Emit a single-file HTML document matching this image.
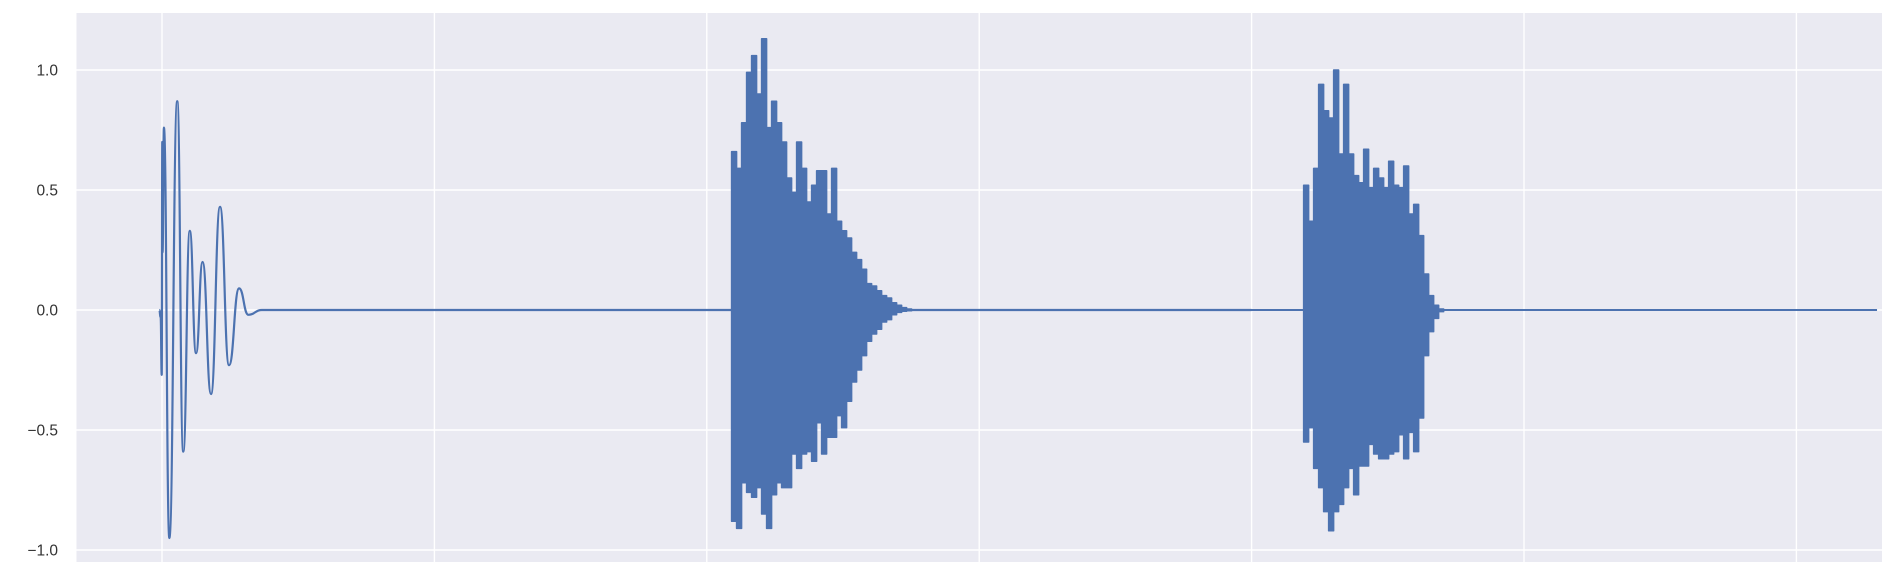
<!DOCTYPE html>
<html><head><meta charset="utf-8">
<style>
html,body{margin:0;padding:0;background:#fff;}
svg{display:block;font-family:"Liberation Sans","DejaVu Sans",sans-serif;}
</style></head>
<body>
<svg id="chart" width="1882" height="566" viewBox="0 0 1882 566" xmlns="http://www.w3.org/2000/svg">
<g id="plot"></g>
</svg>
<script>
// ---- data ----
const xTicks = [0, 10, 20, 30, 40, 50, 60];
const yTicks = [1.0, 0.5, 0.0, -0.5, -1.0];
const yTickLabels = ["1.0", "0.5", "0.0", "\u22120.5", "\u22121.0"];
// initial transient (t, value) - extrema
const transientT = [-0.10, -0.05, -0.01, 0.01, 0.02, 0.07, 0.27, 0.56, 0.78, 1.02, 1.25, 1.49, 1.80, 2.13, 2.46, 2.83, 3.17, 3.66, 40];
const transientV = [0.0, -0.03, -0.27, 0.70, 0.24, 0.76, -0.95, 0.87, -0.59, 0.33, -0.18, 0.20, -0.35, 0.43, -0.23, 0.09, -0.02, 0.0, 0.0];
// burst 1 envelope
const burst1Start = 20.91;
const burst1Max = [0.66,0.59,0.78,0.99,1.06,0.90,1.13,0.76,0.87,0.78,0.70,0.55,0.49,0.70,0.59,0.45,0.52,0.58,0.58,0.40,0.59,0.37,0.33,0.30,0.24,0.21,0.17,0.11,0.10,0.08,0.06,0.05,0.03,0.02,0.01,0.004];
const burst1Min = [-0.88,-0.91,-0.72,-0.76,-0.78,-0.74,-0.85,-0.91,-0.77,-0.72,-0.74,-0.74,-0.60,-0.66,-0.60,-0.59,-0.63,-0.47,-0.60,-0.53,-0.53,-0.44,-0.49,-0.38,-0.30,-0.25,-0.19,-0.13,-0.10,-0.08,-0.05,-0.04,-0.02,-0.01,-0.005,-0.003];
// burst 2 envelope
const burst2Start = 41.91;
const burst2Max = [0.52,0.37,0.59,0.94,0.83,0.80,1.00,0.65,0.94,0.65,0.56,0.53,0.67,0.51,0.59,0.55,0.51,0.62,0.52,0.51,0.60,0.40,0.44,0.31,0.15,0.06,0.02,0.004];
const burst2Min = [-0.55,-0.49,-0.66,-0.74,-0.84,-0.92,-0.84,-0.81,-0.74,-0.66,-0.77,-0.65,-0.65,-0.56,-0.60,-0.62,-0.62,-0.60,-0.59,-0.52,-0.62,-0.51,-0.59,-0.45,-0.19,-0.09,-0.035,-0.007];
const binWidth = 0.1836;
const tEnd = 62.96;

// ---- axes ----
const NS = "http://www.w3.org/2000/svg";
const L = 76.5, T = 13, R = 1882, B = 562;
const xs = t => 162 + t * 27.24;
const ys = v => 310 - v * 240;
const plot = document.getElementById('plot');
function mk(tag, attrs, parent) {
  const e = document.createElementNS(NS, tag);
  for (const k in attrs) e.setAttribute(k, attrs[k]);
  (parent || plot).appendChild(e);
  return e;
}
const bg = mk('rect', {x: L, y: T, width: R - L, height: B - T, fill: '#eaeaf2'});


xTicks.forEach(t => {
  const g = mk('line', {x1: xs(t), x2: xs(t), y1: T, y2: B, stroke: '#fff', 'stroke-width': 1.4});
  
  
});
yTicks.forEach((v, i) => {
  const g = mk('line', {x1: L, x2: R, y1: ys(v), y2: ys(v), stroke: '#fff', 'stroke-width': 1.4});
  
  
  const tx = mk('text', {x: 58, y: ys(v) + 5.5, 'text-anchor': 'end', 'font-size': 15.5, fill: '#333'});
  tx.textContent = yTickLabels[i];
  
  
});

// ---- series ----
const color = '#4c72b0';
const base = mk('line', {x1: xs(transientT[transientT.length - 2]), x2: xs(tEnd), y1: ys(0), y2: ys(0), stroke: color, 'stroke-width': 2});


let d = 'M' + xs(transientT[0]).toFixed(2) + ' ' + ys(transientV[0]).toFixed(2);
for (let i = 1; i < transientT.length; i++) {
  const x0 = xs(transientT[i - 1]), y0 = ys(transientV[i - 1]);
  const x1 = xs(transientT[i]), y1 = ys(transientV[i]);
  const h = (x1 - x0) / 2;
  d += 'C' + (x0 + h).toFixed(2) + ' ' + y0.toFixed(2) + ' ' + (x1 - h).toFixed(2) + ' ' + y1.toFixed(2) + ' ' + x1.toFixed(2) + ' ' + y1.toFixed(2);
}
const tr = mk('path', {d: d, fill: 'none', stroke: color, 'stroke-width': 2.2, 'stroke-linejoin': 'round'});



function burst(start, mx, mn, name) {
  let p = '';
  mx.forEach((v, i) => {
    const x0 = xs(start + i * binWidth), x1 = xs(start + (i + 1) * binWidth);
    p += (i ? 'L' : 'M') + x0.toFixed(2) + ' ' + ys(v).toFixed(2) + 'L' + x1.toFixed(2) + ' ' + ys(v).toFixed(2);
  });
  for (let i = mn.length - 1; i >= 0; i--) {
    const x0 = xs(start + i * binWidth), x1 = xs(start + (i + 1) * binWidth);
    p += 'L' + x1.toFixed(2) + ' ' + ys(mn[i]).toFixed(2) + 'L' + x0.toFixed(2) + ' ' + ys(mn[i]).toFixed(2);
  }
  p += 'Z';
  const e = mk('path', {d: p, fill: color, stroke: color, 'stroke-width': 1.5, 'stroke-linejoin': 'round'});
  
  
}
burst(burst1Start, burst1Max, burst1Min, 'burst-1');
burst(burst2Start, burst2Max, burst2Min, 'burst-2');
</script>
</body></html>
